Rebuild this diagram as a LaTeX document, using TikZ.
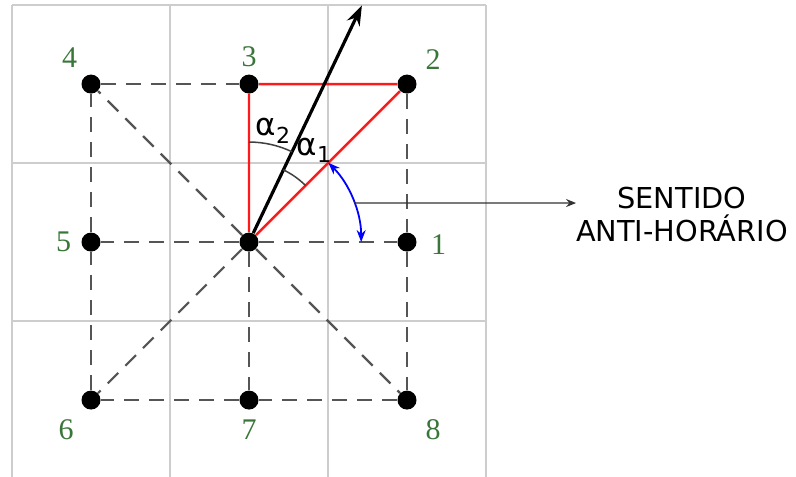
\documentclass[tikz,border=0pt]{standalone}
\usepackage{fontspec}
\setmainfont{Liberation Serif}
\newfontfamily\sansfont{DejaVu Sans}
\usetikzlibrary{arrows.meta}
\definecolor{numgreen}{RGB}{58,118,58}
\definecolor{gridgray}{RGB}{205,205,205}
\definecolor{dashgray}{RGB}{85,85,85}
\newcommand{\alphalbl}[1]{{\sansfont\fontsize{15.5}{17}\selectfont α\raisebox{-0.25em}{\fontsize{11}{12}\selectfont #1}}}
\begin{document}
\begin{tikzpicture}[x=79pt, y=79pt,
  dot/.style={circle, fill=black, inner sep=0pt, minimum size=9.5pt},
  num/.style={text=numgreen, font=\fontsize{15}{16}\selectfont, inner sep=0pt},
  dashline/.style={dashgray, line width=1.1pt, dash pattern=on 7.5pt off 5pt},
  redline/.style={red!90!white, line width=1.2pt},
  angarc/.style={black!75, line width=0.75pt}]
\useasboundingbox (-1.576,-1.487) rectangle (3.462,1.532);
% grid
\foreach \x in {-1.5,-0.5,0.5,1.5}
  \draw[gridgray, line width=0.7pt] (\x,-1.487) -- (\x,1.5);
\foreach \y in {-0.5,0.5,1.5}
  \draw[gridgray, line width=0.7pt] (-1.5,\y) -- (1.5,\y);
% points
\node[dot] (c) at (0,0) {};
\foreach \n/\x/\y in {1/1/0, 2/1/1, 3/0/1, 4/-1/1, 5/-1/0, 6/-1/-1, 7/0/-1, 8/1/-1}
  \node[dot] (p\n) at (\x,\y) {};
\foreach \n/\x/\y in {1/1.2/-0.013, 2/1.165/1.158, 3/0/1.17, 4/-1.136/1.165, 5/-1.174/0, 6/-1.158/-1.19, 7/0/-1.19, 8/1.165/-1.19}
  \node[num] (l\n) at (\x,\y) {\n};
% neighbourhood
\draw[dashline] (p4) -- (p3);
\draw[dashline] (p2) -- (p1) -- (p8) -- (p7) -- (p6) -- (p5) -- (p4);
\foreach \n in {1,4,5,6,7,8}
  \draw[dashline] (c) -- (p\n);
\draw[redline] (c) -- (p3) -- (p2) -- (c);
% direction
\coordinate (tip) at (64.5:1.66);
\draw[line width=1.6pt, -{Stealth[length=10pt,width=7pt]}] (c) -- (tip);
\draw[angarc] (90:0.633) arc[start angle=90, end angle=64.5, radius=0.633];
\draw[angarc] (64.5:0.506) arc[start angle=64.5, end angle=45, radius=0.506];
\node[inner sep=0pt] (a2) at (0.152,0.703) {\alphalbl{2}};
\node[inner sep=0pt] (a1) at (0.41,0.58) {\alphalbl{1}};
\draw[blue, line width=0.9pt, {Stealth[length=6pt,width=4.5pt]}-{Stealth[length=6pt,width=4.5pt]}] (45:0.71) arc[start angle=45, end angle=0, radius=0.71];
% caption
\node[font=\sansfont\fontsize{14.4}{16.5}\selectfont, align=center] (txt) at (2.74,0.175) {SENTIDO\\ANTI-HORÁRIO};
\coordinate (ptr) at (20.4:0.71);
\coordinate (ptrend) at (2.07,0.247);
\draw[black!80, line width=0.7pt, -{Stealth[length=5pt,width=4pt]}] (ptr) -- (ptrend);
\end{tikzpicture}
\end{document}
